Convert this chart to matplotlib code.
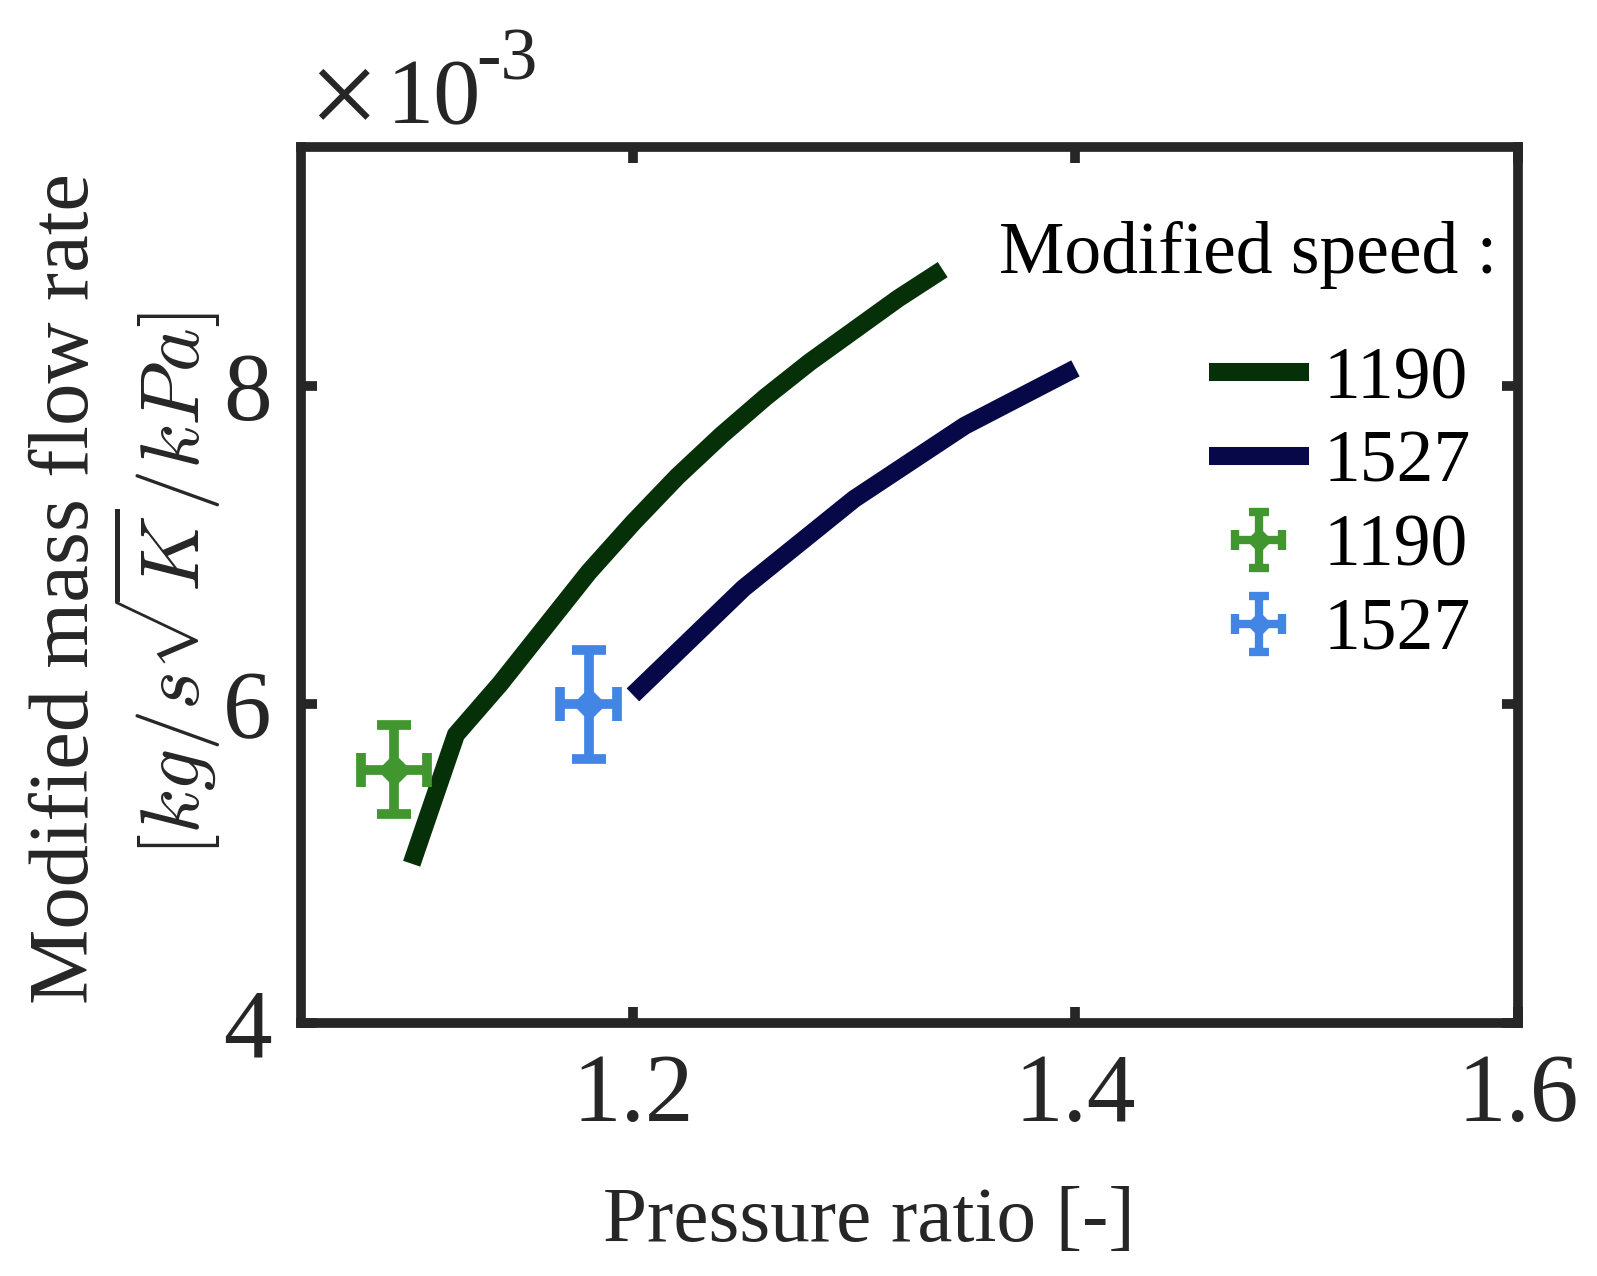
import numpy as np
import matplotlib
matplotlib.use("Agg")
import matplotlib.pyplot as plt
from matplotlib.legend_handler import HandlerErrorbar

plt.rcParams["font.family"] = ["Liberation Serif", "DejaVu Serif"]
plt.rcParams["mathtext.fontset"] = "cm"

# model curves, mass flow in units of 1e-3
pr_1190 = [1.10, 1.12, 1.14, 1.16, 1.18, 1.20, 1.22, 1.24, 1.26, 1.28, 1.30, 1.32, 1.34]
mf_1190 = [5.00, 5.81, 6.13, 6.48, 6.83, 7.14, 7.43, 7.69, 7.93, 8.15, 8.35, 8.55, 8.73]
pr_1527 = [1.20, 1.25, 1.30, 1.35, 1.40]
mf_1527 = [6.06, 6.73, 7.29, 7.75, 8.11]

# measured points with uncertainty
exp_pr = [1.092, 1.180]
exp_mf = [5.59, 6.00]
exp_pr_err = [0.015, 0.013]
exp_mf_err = [0.28, 0.34]
speeds = ["1190", "1527"]

line_cols = ["#063008", "#060848"]
exp_cols = ["#419630", "#4285E5"]
axcol = "#262626"
W, H = 1597, 1276

fig = plt.figure(figsize=(W / 100, H / 100), dpi=100)
ax = fig.add_axes([0.1885, 0.1983, 0.9505 - 0.1885, 0.8848 - 0.1983])

h1, = ax.plot(pr_1190, mf_1190, color=line_cols[0], lw=13, solid_capstyle="butt")
h2, = ax.plot(pr_1527, mf_1527, color=line_cols[1], lw=13, solid_capstyle="butt")
leg_err = []
for i in range(2):
    ax.errorbar(exp_pr[i], exp_mf[i], xerr=exp_pr_err[i], yerr=exp_mf_err[i],
                fmt="D", color=exp_cols[i], ms=16, elinewidth=7,
                capsize=12, capthick=7)
    # smaller copy of the style for the legend key (no data drawn)
    p = ax.errorbar([np.nan], [np.nan], xerr=[1], yerr=[1], fmt="D",
                    color=exp_cols[i], ms=12, elinewidth=6, capsize=7.5, capthick=6)
    leg_err.append(p)

ax.set_xlim(1.05, 1.6)
ax.set_ylim(4, 9.5)
ax.set_xticks([1.2, 1.4, 1.6])
ax.set_yticks([4, 6, 8])
ax.set_xticklabels(["1.2", "1.4", "1.6"])
ax.set_yticklabels(["4", "6", "8"])
ax.tick_params(axis="both", direction="in", length=11.5, width=7, color=axcol,
               labelcolor=axcol, labelsize=70, top=True, right=True)
ax.tick_params(axis="x", pad=22)
ax.tick_params(axis="y", pad=21)
for s in ax.spines.values():
    s.set_linewidth(7)
    s.set_color(axcol)

ax.set_xlabel("Pressure ratio [-]", fontsize=57, color=axcol)
ax.xaxis.set_label_coords(0.467, -0.187)

# two-line y label
fig.text(88 / W, 1 - 588 / H, "Modified mass flow rate", fontsize=61, color=axcol,
         rotation=90, rotation_mode="anchor", ha="center", va="baseline")
fig.text(199 / W, 1 - 585 / H, r"$[kg/s\sqrt{K}/kPa]$", fontsize=60, color=axcol,
         rotation=90, rotation_mode="anchor", ha="center", va="baseline")

# exponent note above the axes
fig.text(308 / W, 1 - 135 / H, "\u00d7", fontsize=90, color=axcol,
         ha="left", va="baseline")
fig.text(387 / W, 1 - 123 / H, "10", fontsize=68, color=axcol,
         ha="left", va="baseline")
fig.text(476 / W, 1 - 79 / H, "-3", fontsize=53, color=axcol,
         ha="left", va="baseline")

ax.text(0.983, 0.856, "Modified speed :", transform=ax.transAxes, fontsize=53,
        ha="right", va="baseline", color="black")
leg = ax.legend([h1, h2, leg_err[0], leg_err[1]], speeds + speeds, loc="upper right",
                bbox_to_anchor=(0.961, 0.772), frameon=False, fontsize=53,
                handlelength=1.35, handletextpad=0.2, labelspacing=0.22,
                borderpad=0, borderaxespad=0,
                handler_map={type(leg_err[0]): HandlerErrorbar(xerr_size=0.32, yerr_size=0.38)})

fig.savefig("out.png", dpi=100)
